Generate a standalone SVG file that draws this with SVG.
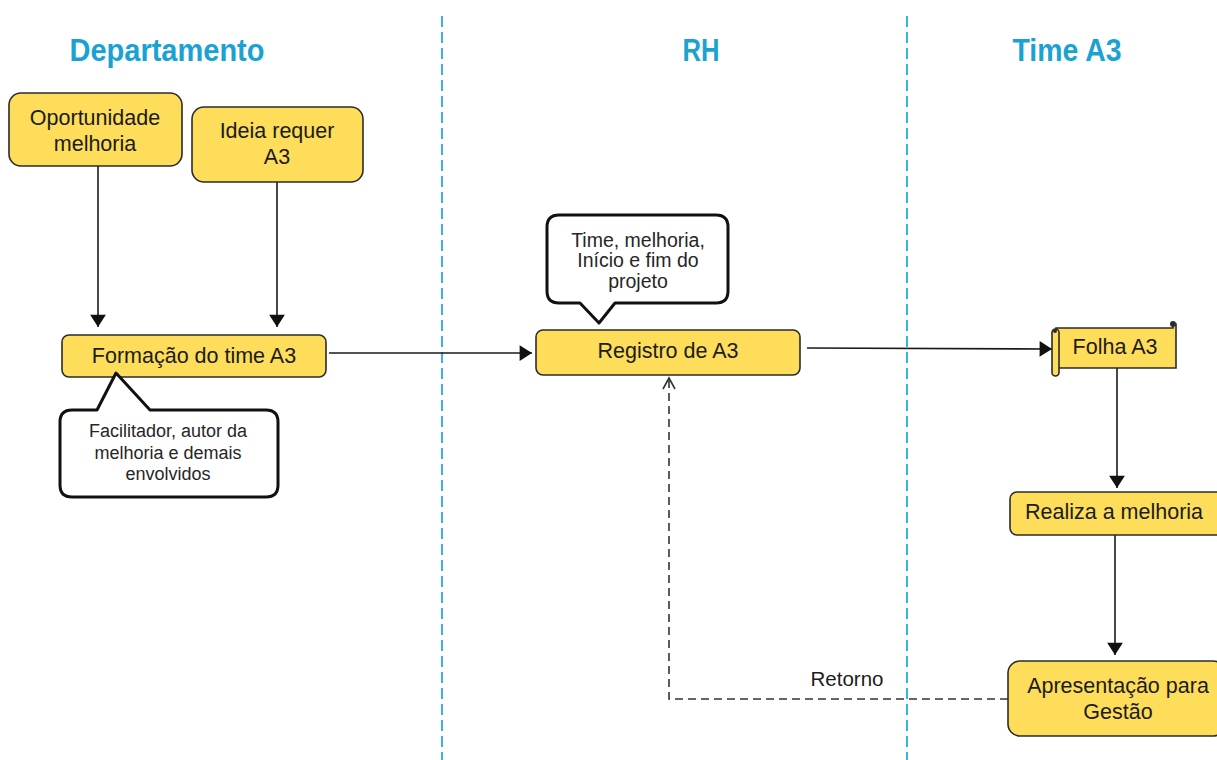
<svg xmlns="http://www.w3.org/2000/svg" width="1217" height="760" viewBox="0 0 1217 760">
  <style>
    .lane { stroke: #3ab4dc; stroke-width: 2; stroke-dasharray: 11 5; fill: none; }
    .hdr { font-family: "Liberation Sans", Arial, sans-serif; font-weight: bold; font-size: 31px; fill: #1aa2d3; text-anchor: middle; }
    .box { fill: #fedd5a; stroke: #2b2b2b; stroke-width: 1.6; }
    .lbl { font-family: "Liberation Sans", Arial, sans-serif; font-size: 21.5px; fill: #1c1c1c; text-anchor: middle; }
    .note { fill: #fff; stroke: #111; stroke-width: 3; stroke-linejoin: round; }
    .ntxt { font-family: "Liberation Sans", Arial, sans-serif; font-size: 18px; fill: #262626; text-anchor: middle; }
    .edge { stroke: #1a1a1a; stroke-width: 1.6; fill: none; }
    .back { stroke: #333; stroke-width: 1.6; fill: none; stroke-dasharray: 8 5; }
  </style>
  <defs>
    <marker id="arrow" markerUnits="userSpaceOnUse" markerWidth="14" markerHeight="18" viewBox="0 -8 12 16" refX="11" refY="0" orient="auto">
      <path d="M0,-7 L11,0 L0,7 z" fill="#111"/>
    </marker>
    <marker id="open" markerUnits="userSpaceOnUse" markerWidth="16" markerHeight="16" viewBox="-1 -8 14 16" refX="11" refY="0" orient="auto">
      <path d="M0,-6 L11,0 L0,6" fill="none" stroke="#333" stroke-width="1.6"/>
    </marker>
  </defs>

  <!-- swimlane dividers -->
  <g id="lanes">
    <line class="lane" x1="442" y1="16" x2="442" y2="760"/>
    <line class="lane" x1="907" y1="16" x2="907" y2="760"/>
  </g>

  <!-- lane headings -->
  <g id="headers">
    <text class="hdr" x="167" y="61" textLength="195" lengthAdjust="spacingAndGlyphs">Departamento</text>
    <text class="hdr" x="701" y="61" textLength="37" lengthAdjust="spacingAndGlyphs">RH</text>
    <text class="hdr" x="1067" y="61" textLength="109" lengthAdjust="spacingAndGlyphs">Time A3</text>
  </g>

  <!-- connectors -->
  <g id="connectors">
    <line class="edge" x1="98" y1="166" x2="98" y2="327" marker-end="url(#arrow)"/>
    <line class="edge" x1="277" y1="182" x2="277" y2="327" marker-end="url(#arrow)"/>
    <line class="edge" x1="329" y1="353" x2="532" y2="353" marker-end="url(#arrow)"/>
    <line class="edge" x1="807" y1="348" x2="1052" y2="349" marker-end="url(#arrow)"/>
    <line class="edge" x1="1117" y1="368" x2="1117" y2="488" marker-end="url(#arrow)"/>
    <line class="edge" x1="1115" y1="535" x2="1115" y2="655" marker-end="url(#arrow)"/>
    <polyline class="back" points="1008,699 669,699 669,378" marker-end="url(#open)"/>
    <text class="lbl" x="847" y="686" style="font-size:20.5px">Retorno</text>
  </g>

  <g id="oportunidade">
    <rect class="box" x="9" y="93" width="173" height="73" rx="12"/>
    <text class="lbl" x="95" y="125">Oportunidade</text>
    <text class="lbl" x="95" y="151">melhoria</text>
  </g>

  <g id="ideia">
    <rect class="box" x="192" y="107" width="171" height="75" rx="12"/>
    <text class="lbl" x="277" y="138">Ideia requer</text>
    <text class="lbl" x="277" y="164">A3</text>
  </g>

  <g id="formacao">
    <rect class="box" x="62" y="335" width="264" height="42" rx="7"/>
    <text class="lbl" x="194" y="363">Formação do time A3</text>
  </g>

  <g id="nota-facilitador">
    <path class="note" d="M72,410 L97,410 L116,373 L150,410 L266,410 Q278,410 278,422 L278,485 Q278,497 266,497 L72,497 Q60,497 60,485 L60,422 Q60,410 72,410 Z"/>
    <text class="ntxt" x="168" y="437">Facilitador, autor da</text>
    <text class="ntxt" x="168" y="459">melhoria e demais</text>
    <text class="ntxt" x="168" y="480">envolvidos</text>
  </g>

  <g id="registro">
    <rect class="box" x="536" y="330" width="264" height="45" rx="7"/>
    <text class="lbl" x="668" y="358">Registro de A3</text>
  </g>

  <g id="nota-registro">
    <path class="note" d="M559,215 L716,215 Q728,215 728,227 L728,291 Q728,303 716,303 L615,303 L599,323 L580,303 L559,303 Q547,303 547,291 L547,227 Q547,215 559,215 Z"/>
    <text class="ntxt" x="638" y="247" style="font-size:19.5px">Time, melhoria,</text>
    <text class="ntxt" x="638" y="267" style="font-size:19.5px">Início e fim do</text>
    <text class="ntxt" x="638" y="288" style="font-size:19.5px">projeto</text>
  </g>

  <g id="folha">
    <path class="box" d="M1056,328 L1173,328 L1173,324 L1176,324 L1176,368 L1056,368 Z"/>
    <circle cx="1173" cy="324" r="3" fill="#2b2b2b"/>
    <rect class="box" x="1052" y="329" width="7" height="47" rx="3.5"/>
    <circle cx="1055" cy="331" r="2" fill="#2b2b2b"/>
    <text class="lbl" x="1115" y="354">Folha A3</text>
  </g>

  <g id="realiza">
    <rect class="box" x="1010" y="492" width="215" height="43" rx="7"/>
    <text class="lbl" x="1114" y="519">Realiza a melhoria</text>
  </g>

  <g id="apresentacao">
    <rect class="box" x="1008" y="661" width="217" height="75" rx="12"/>
    <text class="lbl" x="1118" y="693">Apresentação para</text>
    <text class="lbl" x="1118" y="719">Gestão</text>
  </g>
</svg>
